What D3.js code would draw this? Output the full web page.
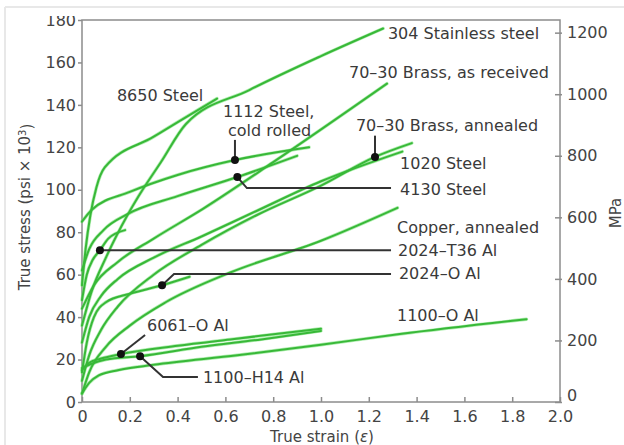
<!DOCTYPE html>
<html><head><meta charset="utf-8">
<script src="https://cdn.jsdelivr.net/npm/d3@7"></script>
<style>
html,body{margin:0;padding:0;background:#fff;}
svg{display:block;font-family:"DejaVu Sans",sans-serif;}
</style></head>
<body><svg id="c" width="624" height="445"></svg>
<script>
// ---- data: true strain, true stress (ksi) ----
const steel8650   = [[0,55],[0.015,72],[0.035,88],[0.06,101],[0.095,110.5],[0.3,125],[0.565,143]];
const stainless304= [[0,36],[0.04,52],[0.1,68],[0.19,88],[0.234,96.5],[0.33,113],[0.435,131],[0.7,147],[1.0,163],[1.26,176]];
const steel1112   = [[0,85],[0.04,90.5],[0.2,99],[0.4,107],[0.64,114],[0.95,120]];
const steel4130   = [[0,62],[0.03,72],[0.09,81],[0.19,88.5],[0.4,97],[0.65,106],[0.9,116]];
const brassAsRec  = [[0,44],[0.05,55],[0.15,66],[0.3,77],[0.506,91],[0.8,113],[1.276,150]];
const brassAnn    = [[0,10],[0.03,22],[0.08,34],[0.15,45],[0.3,60],[0.5,74],[0.73,88],[1.0,102],[1.226,115.5],[1.38,122]];
const steel1020   = [[0,28],[0.03,40],[0.08,50],[0.15,58],[0.3,68],[0.5,78],[0.73,90],[1.0,104],[1.34,118]];
const copperAnn   = [[0,4],[0.03,14],[0.1,26],[0.2,36],[0.35,47],[0.62,61],[1.0,76],[1.32,91.5]];
const al2024O     = [[0,14],[0.02,28],[0.05,40],[0.1,47],[0.2,51],[0.335,55],[0.45,59]];
const al2024T36   = [[0,48],[0.02,60],[0.045,67],[0.075,71.5],[0.11,77],[0.18,81]];
const al6061O     = [[0,15],[0.03,18.5],[0.08,20.5],[0.163,22.6],[0.4,26.5],[0.62,29.5],[1.0,34.5]];
const al1100H14   = [[0,16],[0.04,18],[0.1,20],[0.243,21.6],[0.5,26],[0.75,29.5],[1.0,33.5]];
const al1100O     = [[0,4],[0.03,9],[0.07,12.5],[0.15,15],[0.3,17.5],[0.65,22],[1.0,27],[1.33,32],[1.86,39]];

const curves = [steel8650, stainless304, steel1112, steel4130, brassAsRec, brassAnn, steel1020,
                copperAnn, al2024O, al2024T36, al6061O, al1100H14, al1100O];

const strainTicks = [0,0.2,0.4,0.6,0.8,1.0,1.2,1.4,1.6,1.8,2.0];
const strainTickLabels = ["0","0.2","0.4","0.6","0.8","1.0","1.2","1.4","1.6","1.8","2.0"];
const stressTicks = [0,20,40,60,80,100,120,140,160,180];
const mpaTicks = [0,200,400,600,800,1000,1200];

// labels: [lines, strain, stress] (anchor = start of first baseline)
const labelTexts = [
  [["304 Stainless steel"], 1.280, 171.1],
  [["70–30 Brass, as received"], 1.117, 152.7],
  [["70–30 Brass, annealed"], 1.146, 127.7],
  [["1020 Steel"], 1.331, 109.8],
  [["4130 Steel"], 1.331, 97.5],
  [["Copper, annealed"], 1.318, 79.6],
  [["2024–T36 Al"], 1.322, 68.8],
  [["2024–O Al"], 1.326, 58.0],
  [["1100–O Al"], 1.318, 38.2],
  [["8650 Steel"], 0.146, 141.8],
  [["1112 Steel,", "cold rolled"], 0.590, 134.2],
  [["6061–O Al"], 0.272, 33.5],
  [["1100–H14 Al"], 0.506, 9.0]
];
// leader polylines (strain, stress); first point carries the dot
const leaders = [
  [[0.64,114],[0.64,123.5]],
  [[0.65,106],[0.69,100.8],[1.293,100.8]],
  [[1.226,115.5],[1.226,125.5]],
  [[0.075,71.5],[1.293,71.5]],
  [[0.335,55],[0.385,60.3],[1.293,60.3]],
  [[0.163,22.6],[0.264,31.6]],
  [[0.243,21.6],[0.339,11.8],[0.485,11.8]]
];

const svg = d3.select("#c");
const L=82, R=560, T=20, B=402;
const x = d3.scaleLinear().domain([0,2]).range([L,R]);
const y = d3.scaleLinear().domain([0,180]).range([B,T]);
const yM = d3.scaleLinear().domain([0,180*6.895]).range([B,T]);

// faint photo border
svg.append("line").attr("x1",5).attr("x2",624).attr("y1",7).attr("y2",7).attr("stroke","#e8e8e8").attr("stroke-width",2);
svg.append("line").attr("x1",5).attr("x2",5).attr("y1",7).attr("y2",445).attr("stroke","#e8e8e8").attr("stroke-width",2);

svg.append("clipPath").attr("id","clipTop").append("rect").attr("x",0).attr("y",16).attr("width",624).attr("height",430);
const g = svg.append("g").attr("clip-path","url(#clipTop)");

const axisCol="#8c8c8c", txtCol="#444";
// frame
g.append("rect").attr("x",L).attr("y",T).attr("width",R-L).attr("height",B-T)
 .attr("fill","none").attr("stroke",axisCol).attr("stroke-width",1.5);

// left axis
const la = g.append("g").attr("transform",`translate(${L},0)`)
  .call(d3.axisLeft(y).tickValues(stressTicks).tickSize(4).tickPadding(2).tickFormat(d3.format("d")));
// bottom axis (inward ticks)
const ba = g.append("g").attr("transform",`translate(0,${B})`)
  .call(d3.axisBottom(x).tickValues(strainTicks).tickSizeInner(-5).tickSizeOuter(0).tickPadding(6)
        .tickFormat((d,i)=>strainTickLabels[i]));
// right axis
const ra = g.append("g").attr("transform",`translate(${R},0)`)
  .call(d3.axisRight(yM).tickValues(mpaTicks).tickSize(3).tickPadding(4).tickFormat(d3.format("d")));
ra.selectAll(".tick line").attr("x1",-5).attr("x2",2);
[la,ba,ra].forEach(a=>{
  a.select(".domain").remove();
  a.selectAll(".tick line").attr("stroke",axisCol).attr("stroke-width",1.5);
  a.selectAll("text").attr("fill",txtCol).style("font-size","16px").style("font-family","DejaVu Sans");
});
ba.selectAll("text").attr("dy","0.85em");
ra.selectAll(".tick").filter(d=>d===0).select("text").attr("dy","-0.1em");

// curves
const line = d3.line().x(d=>x(d[0])).y(d=>y(d[1])).curve(d3.curveMonotoneX);
g.append("g").selectAll("path.halo").data(curves).join("path")
  .attr("d",line).attr("fill","none").attr("stroke","#6fe06f").attr("stroke-width",3.4).attr("stroke-opacity",0.55)
  .attr("stroke-linecap","round");
g.append("g").selectAll("path.core").data(curves).join("path")
  .attr("d",line).attr("fill","none").attr("stroke","#38b838").attr("stroke-width",2)
  .attr("stroke-linecap","round");

// leaders
const lline = d3.line().x(d=>x(d[0])).y(d=>y(d[1]));
g.append("g").selectAll("path").data(leaders).join("path")
  .attr("d",lline).attr("fill","none").attr("stroke","#333").attr("stroke-width",2);
g.append("g").selectAll("circle").data(leaders).join("circle")
  .attr("cx",d=>x(d[0][0])).attr("cy",d=>y(d[0][1])).attr("r",4).attr("fill","#111");

// labels
const lt = g.append("g").selectAll("text").data(labelTexts).join("text")
  .attr("x",d=>x(d[1])).attr("y",d=>y(d[2]))
  .attr("fill","#3a3a3a").style("font-size","16px");
lt.each(function(d){
  const t=d3.select(this);
  d[0].forEach((s,i)=>{
    t.append("tspan").text(s).attr("x",x(d[1])+(i?5:0)).attr("dy",i?"1.15em":0);
  });
});

// axis titles
const yt = svg.append("text").attr("transform","translate(30,207) rotate(-90)").attr("text-anchor","middle")
  .attr("fill",txtCol).style("font-size","15px");
yt.append("tspan").text("True stress (psi × 10");
yt.append("tspan").text("3").attr("dy","-0.45em").style("font-size","10px");
yt.append("tspan").text(")").attr("dy","0.45em");

const xt = svg.append("text").attr("x",322).attr("y",442).attr("text-anchor","middle")
  .attr("fill",txtCol).style("font-size","15px");
xt.append("tspan").text("True strain (");
xt.append("tspan").text("ε").style("font-style","italic");
xt.append("tspan").text(")");

svg.append("text").attr("transform","translate(621,213) rotate(-90)").attr("text-anchor","middle")
  .attr("fill",txtCol).style("font-size","15px").text("MPa");
</script></body></html>
